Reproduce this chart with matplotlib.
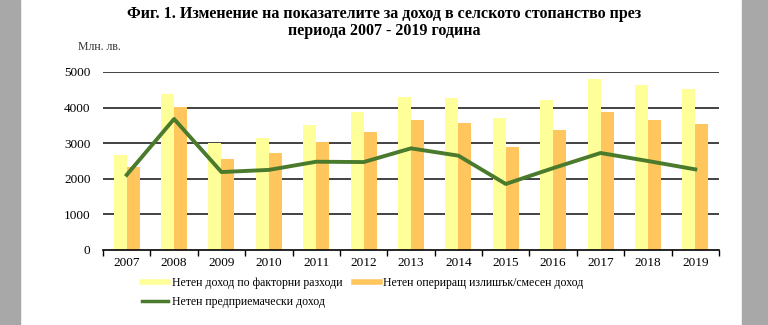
import matplotlib
matplotlib.use("Agg")
import matplotlib.pyplot as plt
import numpy as np
from matplotlib.patches import Rectangle
from matplotlib.lines import Line2D

years = ["2007", "2008", "2009", "2010", "2011", "2012", "2013",
         "2014", "2015", "2016", "2017", "2018", "2019"]
factor_income = [2660, 4390, 3000, 3150, 3500, 3870, 4300, 4270, 3710, 4200, 4790, 4625, 4530]
operating_surplus = [2340, 4010, 2550, 2725, 3030, 3310, 3660, 3560, 2890, 3370, 3880, 3660, 3540]
entrepreneurial_income = [2110, 3680, 2190, 2250, 2480, 2470, 2855, 2650, 1855, 2300, 2725, 2500, 2265]
y_ticks = [0, 1000, 2000, 3000, 4000, 5000]

title_line1 = "Фиг. 1. Изменение на показателите за доход в селското стопанство през"
title_line2 = "периода 2007 - 2019 година"
unit_label = "Млн. лв."
labels = ["Нетен доход по факторни разходи",
          "Нетен опериращ излишък/смесен доход",
          "Нетен предприемачески доход"]

c_yellow = "#FFFF99"
c_orange = "#FFC65E"
c_green = "#4A7A2C"

plt.rcParams['font.family'] = ['Liberation Serif', 'DejaVu Serif']

fig = plt.figure(figsize=(7.68, 3.25), dpi=100)
fig.patch.set_facecolor("white")
# gray side bands
fig.patches.append(Rectangle((0, 0), 20/768, 1, transform=fig.transFigure, color="#A8A8A8", zorder=0))
fig.patches.append(Rectangle((742/768, 0), 26/768, 1, transform=fig.transFigure, color="#A8A8A8", zorder=0))

ax = fig.add_axes([103/768, 1-250/325, 616/768, 178/325])
x = np.arange(len(years))
w = 0.275
ax.bar(x - w/2, factor_income, w, color=c_yellow, zorder=2)
ax.bar(x + w/2, operating_surplus, w, color=c_orange, zorder=2)
ax.plot(x, entrepreneurial_income, color=c_green, lw=2.8, zorder=3)

ax.set_xlim(-0.5, len(years) - 0.5)
ax.set_ylim(0, 5000)
ax.set_yticks(y_ticks)
ax.set_yticklabels([str(v) for v in y_ticks], fontsize=9.5)
ax.tick_params(axis='y', length=0, pad=9)
for v in y_ticks[1:]:
    ax.axhline(v, color="#222222", lw=1.2, zorder=1)

ax.set_xticks(x)
ax.set_xticklabels(years, fontsize=9.5)
ax.tick_params(axis='x', length=0, pad=5)
ax.set_xticks(np.arange(-0.5, len(years)), minor=True)
ax.tick_params(axis='x', which='minor', length=4, width=1, color="black", direction='out')

for s in ["top", "right", "left"]:
    ax.spines[s].set_visible(False)
ax.spines["bottom"].set_color("black")
ax.spines["bottom"].set_linewidth(1.2)

fig.text(0.5, 1-14/325, title_line1, ha="center", va="center", fontsize=11.5,
         fontweight="bold")
fig.text(0.5, 1-31/325, title_line2, ha="center", va="center", fontsize=11.5,
         fontweight="bold")
fig.text(78/768, 1-47/325, unit_label, ha="left", va="center", fontsize=8.5, color="#333333")

handles = [Line2D([], [], color=c_yellow, lw=4),
           Line2D([], [], color=c_green, lw=2.5),
           Line2D([], [], color=c_orange, lw=4)]
fig.legend(handles, [labels[0], labels[2], labels[1]], ncol=2, frameon=False,
           loc="upper left", bbox_to_anchor=(142/768, 1-277/325), fontsize=8.5,
           handlelength=2.2, handletextpad=0.3, columnspacing=1.0, labelspacing=0.6,
           borderaxespad=0, borderpad=0)

fig.savefig("out.png", dpi=100, facecolor="white")
